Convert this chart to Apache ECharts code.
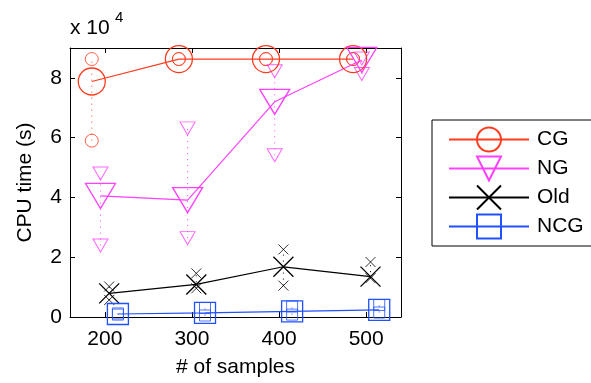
<!DOCTYPE html>
<html>
<head>
<meta charset="utf-8">
<script src="https://cdn.jsdelivr.net/npm/echarts@6/dist/echarts.min.js"></script>
<style>
  html, body { margin: 0; padding: 0; background: #fff; }
  #box { width: 591px; height: 383px; }
</style>
</head>
<body>
<div id="box"></div>
<script>
// sample counts (tick labels) and the small horizontal shift used for each method
var xTicks = [200, 300, 400, 500];
var yTicks = [0, 20000, 40000, 60000, 80000];
var names = ['CG', 'NG', 'Old', 'NCG'];

// x positions of each method's markers
var xCG  = [185, 285, 385, 485];
var xNG  = [195, 295, 395, 495];
var xOld = [205, 305, 405, 505];
var xNCG = [215, 315, 415, 515];

// CPU time (s): mean, min, max over runs
var cgMean  = [78800, 86300, 86300, 86300];
var cgMin   = [59000, 86300, 86300, 86300];
var cgMax   = [86300, 86300, 86300, 86300];

var ngMean  = [40500, 39100, 72000, 86000];
var ngMin   = [23900, 26400, 54100, 81300];
var ngMax   = [48000, 63100, 82200, 86500];

var oldMean = [7900, 10900, 16800, 13500];
var oldMin  = [5700, 9600, 10500, 13000];
var oldMax  = [10200, 14600, 22600, 18400];

var ncgMean = [1000, 1400, 1900, 2400];
var ncgMin  = [800, 500, 800, 1500];
var ncgMax  = [1200, 3000, 3500, 4000];

var colors = ['#ff3b1f', '#ff40ff', '#000000', '#2050ff'];
var symbols = [
    'circle',
    'path://M0,0L20,0L10,17Z',
    'path://M0,0L10,10M10,0L0,10',
    'rect'
];
var bigSize = [27, [30, 25], 20, 21];
var smallSize = [13, [15, 13], 10, 11];

function pairs(xs, ys) {
    return xs.map(function (x, i) { return [x, ys[i]]; });
}

function rangeItem(color) {
    return function (params, api) {
        var p1 = api.coord([api.value(0), api.value(1)]);
        var p2 = api.coord([api.value(0), api.value(2)]);
        return {
            type: 'line',
            shape: { x1: p1[0], y1: p1[1], x2: p2[0], y2: p2[1] },
            style: { stroke: color, lineWidth: 1, lineDash: [1, 5] }
        };
    };
}

var groups = [
    [xCG, cgMean, cgMin, cgMax],
    [xNG, ngMean, ngMin, ngMax],
    [xOld, oldMean, oldMin, oldMax],
    [xNCG, ncgMean, ncgMin, ncgMax]
];

var series = [];
groups.forEach(function (g, k) {
    var xs = g[0];
    series.push({
        name: names[k] + ' range',
        type: 'custom',
        renderItem: rangeItem(colors[k]),
        data: xs.map(function (x, i) { return [x, g[2][i], g[3][i]]; }),
        silent: true,
        z: 1
    });
    series.push({
        name: names[k] + ' runs',
        type: 'scatter',
        symbol: symbols[k],
        symbolSize: smallSize[k],
        itemStyle: { color: 'none', borderColor: colors[k], borderWidth: 1 },
        data: pairs(xs, g[2]).concat(pairs(xs, g[3])),
        silent: true,
        z: 2
    });
    series.push({
        name: names[k],
        type: 'line',
        symbol: symbols[k],
        symbolSize: bigSize[k],
        showAllSymbol: true,
        itemStyle: { color: 'none', borderColor: colors[k], borderWidth: 1.3 },
        lineStyle: { color: colors[k], width: 1.2 },
        data: pairs(xs, g[1]),
        silent: true,
        z: 3
    });
});

var font = 'Liberation Sans';
var fs = 21;
var myChart = echarts.init(document.getElementById('box'));
var option = {
    animation: false,
    textStyle: { fontFamily: font },
    graphic: [
        { type: 'text', left: 70, top: 18, style: { text: 'x 10', font: fs + 'px "Liberation Sans"', fill: '#000' } },
        { type: 'text', left: 115, top: 10, style: { text: '4', font: '15px "Liberation Sans"', fill: '#000' } }
    ],
    grid: { left: 70, right: 190, top: 48, bottom: 64 },
    legend: {
        data: names,
        orient: 'vertical',
        left: 432,
        top: 120,
        itemWidth: 80,
        itemHeight: 30,
        itemGap: 0,
        padding: [5, 8, 5, 16],
        borderColor: '#000',
        borderWidth: 1,
        textStyle: { fontFamily: font, fontSize: fs, color: '#000', padding: [0, 0, 0, 3] }
    },
    xAxis: [
        {
            type: 'value',
            min: 160,
            max: 540,
            name: '# of samples',
            nameLocation: 'middle',
            nameGap: 40,
            nameTextStyle: { fontFamily: font, fontSize: fs, color: '#000' },
            axisLine: { onZero: false, lineStyle: { color: '#000', width: 1 } },
            axisTick: { inside: true, length: 5, customValues: xTicks, lineStyle: { color: '#000' } },
            axisLabel: { customValues: xTicks, fontFamily: font, fontSize: fs, color: '#000', margin: 12 },
            splitLine: { show: false }
        },
        {
            type: 'value',
            position: 'top',
            min: 160,
            max: 540,
            axisLine: { onZero: false, lineStyle: { color: '#000', width: 1 } },
            axisTick: { inside: true, length: 5, customValues: xTicks, lineStyle: { color: '#000' } },
            axisLabel: { show: false },
            splitLine: { show: false }
        }
    ],
    yAxis: [
        {
            type: 'value',
            min: 0,
            max: 90000,
            name: 'CPU time (s)',
            nameLocation: 'middle',
            nameGap: 34,
            nameTextStyle: { fontFamily: font, fontSize: fs, color: '#000' },
            axisLine: { show: true, onZero: false, lineStyle: { color: '#000', width: 1 } },
            axisTick: { show: true, inside: true, length: 5, customValues: yTicks, lineStyle: { color: '#000' } },
            axisLabel: {
                customValues: yTicks,
                fontFamily: font, fontSize: fs, color: '#000', margin: 8,
                formatter: function (v) { return v / 10000; }
            },
            splitLine: { show: false }
        },
        {
            type: 'value',
            position: 'right',
            min: 0,
            max: 90000,
            axisLine: { show: true, onZero: false, lineStyle: { color: '#000', width: 1 } },
            axisTick: { show: true, inside: true, length: 5, customValues: yTicks, lineStyle: { color: '#000' } },
            axisLabel: { show: false },
            splitLine: { show: false }
        }
    ],
    series: series
};
myChart.setOption(option);
</script>
</body>
</html>
